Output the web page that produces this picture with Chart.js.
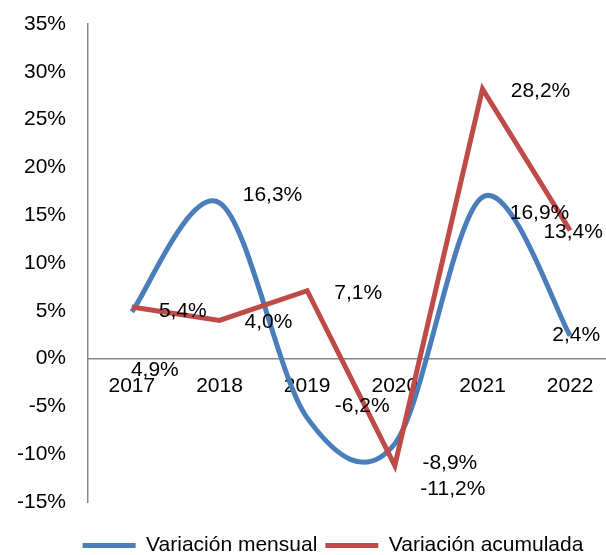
<!DOCTYPE html>
<html>
<head>
<meta charset="utf-8">
<script src="https://cdn.jsdelivr.net/npm/chart.js@4.4.1/dist/chart.umd.min.js"></script>
<style>
html,body{margin:0;padding:0;background:#fff;overflow:hidden}
#wrap{width:620px;height:555px}
</style>
</head>
<body>
<div id="wrap"><canvas id="chart"></canvas></div>
<script>

let years = ["2017","2018","2019","2020","2021","2022"]
let mensual = [4.9,16.3,-6.2,-8.9,16.9,2.4]
let acumulada = [5.4,4.0,7.1,-11.2,28.2,13.4]
let seriesNames = ["Variación mensual","Variación acumulada"]
let yMin = -15
let yMax = 35
let yStep = 5

// label offsets from the point, in px (style only)
let labelOffsets = [
[[23,58],[53,-8],[55,-12],[55,20],[57,16],[6,0]],
[[51,4],[49,2],[51,2],[58,24],[58,2],[3,2]]
]

let blue = "#4A7EBB"
let red = "#BE4B48"
let axisGray = "#868686"
let font = {family:"'Liberation Sans', Arial, sans-serif", size:21}

function fmt(v){
return v.toFixed(1).replace(".",",")+"%"
}

// excel style smoothing (catmull-rom) instead of chart.js spline
let excelSmooth = {
id:"excelSmooth",
beforeDatasetDraw(chart,args){
let meta = args.meta
if(!meta.dataset || !meta.dataset.options.tension) return
let pts = meta.data
pts.forEach((p,i)=>{
let prev = pts[i-1] || p
let next = pts[i+1] || p
let dx = (next.x-prev.x)/6
let dy = (next.y-prev.y)/6
p.cp1x = p.x-dx
p.cp1y = p.y-dy
p.cp2x = p.x+dx
p.cp2y = p.y+dy
})
meta.dataset._pointsUpdated = true
meta.dataset._path = undefined
}
}

let pointLabels = {
id:"pointLabels",
afterLayout(chart){
// legend sits centred under the plot, not the whole canvas
chart.legend.left += 52
},
afterDatasetsDraw(chart){
let ctx = chart.ctx
ctx.save()
ctx.font = "21px 'Liberation Sans', Arial, sans-serif"
ctx.fillStyle = "#000"
ctx.textAlign = "center"
ctx.textBaseline = "middle"
chart.data.datasets.forEach((ds,i)=>{
let meta = chart.getDatasetMeta(i)
meta.data.forEach((p,j)=>{
let off = labelOffsets[i][j]
ctx.fillText(fmt(ds.data[j]), p.x+off[0], p.y+off[1])
})
})
ctx.restore()
}
}

new Chart(document.getElementById("chart"),{
type:"line",
data:{
labels:years,
datasets:[
{
label:seriesNames[0],
data:mensual,
borderColor:blue,
backgroundColor:blue,
borderWidth:5,
pointRadius:0,
tension:0.4,
order:1
},
{
label:seriesNames[1],
data:acumulada,
borderColor:red,
backgroundColor:red,
borderWidth:5,
pointRadius:0,
tension:0,
borderJoinStyle:"miter",
order:0
}
]
},
options:{
responsive:true,
maintainAspectRatio:false,
animation:false,
layout:{autoPadding:false,padding:{left:0,right:6,top:24,bottom:0}},
plugins:{
tooltip:{enabled:false},
legend:{
position:"bottom",
maxHeight:28,
labels:{
font:font,
color:"#000",
boxWidth:53,
boxHeight:5,
padding:8,
generateLabels(chart){
let items = Chart.defaults.plugins.legend.labels.generateLabels(chart)
items.forEach(it=>{it.lineWidth=0})
return items.sort((a,b)=>a.datasetIndex-b.datasetIndex)
}
}
}
},
scales:{
x:{
type:"category",
position:{y:0},
offset:true,
grid:{display:false,drawTicks:false},
border:{display:true,color:axisGray,width:1.5},
ticks:{font:font,color:"#000",padding:15,maxRotation:0,autoSkip:false}
},
x2:{
type:"category",
position:"bottom",
grid:{display:false,drawTicks:false},
border:{display:false},
ticks:{display:false},
afterFit(s){s.height=25}
},
y:{
min:yMin,
max:yMax,
grid:{display:false,drawTicks:false},
border:{display:true,color:axisGray,width:1.5},
ticks:{stepSize:yStep,font:font,color:"#000",padding:22,callback:v=>v+"%"},
afterFit(s){
s.width=88
s.paddingTop=0
s.paddingBottom=0
}
}
}
},
plugins:[excelSmooth,pointLabels]
})

</script>
</body>
</html>
